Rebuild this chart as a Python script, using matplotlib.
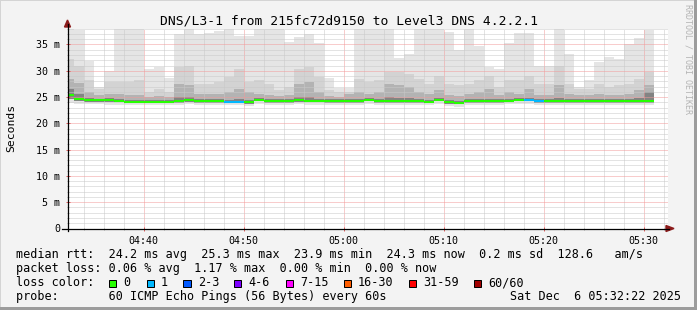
import numpy as np
import matplotlib
matplotlib.use("Agg")
import matplotlib.pyplot as plt
import matplotlib.dates as mdates
from matplotlib.ticker import MultipleLocator
from matplotlib.patches import Rectangle, Polygon
from matplotlib.lines import Line2D
from datetime import datetime, timedelta

# ---------------- data ----------------
title = "DNS/L3-1 from 215fc72d9150 to Level3 DNS 4.2.2.1"
first_bar = datetime(2025, 12, 6, 4, 32)
end_time = datetime(2025, 12, 6, 5, 32, 22)
n_bars = 59

rtt_max = [38.0, 37.8, 31.8, 27.0, 30.0, 38.0, 38.0, 38.0, 30.3, 30.8,
           28.7, 37.0, 38.0, 37.0, 37.2, 37.5, 38.0, 36.7, 36.7, 38.0,
           38.0, 38.0, 35.5, 36.5, 37.0, 35.2, 28.7, 26.8, 26.8, 38.0,
           38.0, 38.0, 38.0, 32.5, 33.1, 38.0, 38.0, 38.0, 37.3, 34.0,
           38.0, 34.8, 30.7, 30.4, 35.3, 37.2, 37.2, 31.0, 31.0, 38.0,
           33.1, 27.0, 28.3, 31.6, 32.7, 32.3, 35.0, 36.3, 37.7]
rtt_p90 = [32.3, 31.0, 28.2, 26.6, 27.8, 27.8, 27.8, 28.2, 25.9, 26.6,
           25.9, 30.7, 31.0, 27.5, 27.5, 27.8, 28.8, 30.4, 27.8, 28.2,
           27.5, 26.3, 26.9, 30.4, 30.7, 28.8, 26.3, 25.9, 26.0, 28.5,
           27.8, 28.2, 29.7, 29.7, 29.4, 28.5, 27.5, 29.1, 27.5, 27.2,
           27.5, 28.2, 29.1, 26.9, 28.2, 28.2, 29.1, 27.5, 27.5, 31.0,
           27.5, 26.6, 26.6, 27.5, 26.9, 27.2, 27.5, 28.5, 29.7]
rtt_p75 = [28.5, 27.6, 25.9, 25.3, 25.6, 25.6, 25.3, 25.3, 25.0, 25.2,
           25.0, 27.5, 27.2, 25.6, 25.6, 25.5, 25.9, 26.6, 25.9, 25.6,
           25.4, 25.2, 25.3, 27.5, 27.8, 25.9, 25.2, 25.0, 25.6, 25.9,
           25.6, 25.9, 27.5, 27.2, 26.9, 25.9, 25.5, 26.3, 25.4, 25.2,
           25.5, 25.9, 26.6, 25.4, 25.9, 25.6, 26.6, 25.4, 25.4, 27.2,
           25.5, 25.3, 25.3, 25.5, 25.3, 25.4, 25.6, 26.3, 27.2]
rtt_p60 = [26.6, 25.6, 24.8, 24.7, 24.8, 24.7, 24.5, 24.5, 24.5, 24.5,
           24.4, 25.0, 25.0, 24.6, 24.6, 24.6, 24.5, 24.6, 24.4, 24.9,
           24.6, 24.6, 24.6, 25.0, 25.0, 24.7, 24.6, 24.6, 24.7, 24.7,
           24.9, 24.6, 25.0, 24.9, 24.8, 24.6, 24.5, 24.9, 24.4, 24.3,
           24.6, 24.6, 24.7, 24.6, 24.7, 24.9, 24.9, 24.6, 24.6, 24.8,
           24.6, 24.6, 24.6, 24.6, 24.6, 24.6, 24.7, 24.8, 25.9]
rtt_median = [25.3, 24.6, 24.35, 24.35, 24.35, 24.3, 24.1, 24.1, 24.1, 24.1,
              24.0, 24.2, 24.4, 24.2, 24.2, 24.2, 24.1, 24.1, 24.0, 24.5,
              24.2, 24.2, 24.2, 24.4, 24.3, 24.3, 24.2, 24.2, 24.2, 24.2,
              24.5, 24.2, 24.2, 24.2, 24.2, 24.2, 24.1, 24.5, 24.0, 23.9,
              24.2, 24.2, 24.2, 24.2, 24.3, 24.5, 24.5, 24.2, 24.2, 24.2,
              24.2, 24.2, 24.2, 24.2, 24.2, 24.2, 24.2, 24.2, 24.2]
rtt_p10 = [24.6, 24.2, 24.1, 24.1, 24.1, 24.0, 23.8, 23.8, 23.8, 23.8,
           23.8, 23.9, 24.1, 23.9, 23.9, 23.9, 23.8, 23.8, 23.7, 24.2,
           23.9, 23.9, 23.9, 24.1, 24.0, 24.0, 23.9, 23.9, 23.9, 23.9,
           24.2, 23.9, 23.9, 23.9, 23.9, 23.9, 23.8, 24.2, 23.7, 23.6,
           23.9, 23.9, 23.9, 23.9, 24.0, 24.2, 24.2, 23.9, 23.9, 23.9,
           23.9, 23.9, 23.9, 23.9, 23.9, 23.9, 23.9, 23.9, 23.9]
rtt_min = [23.9, 23.6, 23.6, 23.6, 23.5, 23.5, 23.4, 23.4, 23.4, 23.4,
           23.4, 23.5, 23.6, 23.5, 23.5, 23.5, 23.4, 23.4, 23.3, 23.7,
           23.5, 23.5, 23.5, 23.6, 23.5, 23.5, 23.5, 23.5, 23.5, 23.5,
           23.7, 23.5, 23.5, 23.5, 23.5, 23.5, 23.4, 23.7, 23.3, 23.2,
           23.5, 23.5, 23.5, 23.5, 23.6, 23.7, 23.7, 23.5, 23.4, 23.5,
           23.5, 23.5, 23.5, 23.5, 23.5, 23.5, 23.5, 23.5, 23.5]
lost_pings = [0] * 16 + [1, 1] + [0] * 28 + [1, 1] + [0] * 11

y_ticks = [0, 5, 10, 15, 20, 25, 30, 35]
y_tick_labels = ["0", "5 m", "10 m", "15 m", "20 m", "25 m", "30 m", "35 m"]

loss_labels = ["0", "1", "2-3", "4-6", "7-15", "16-30", "31-59", "60/60"]
loss_upper = [0, 1, 3, 6, 15, 30, 59, 60]
loss_colors = ["#26ff00", "#00b8ff", "#0059ff", "#7e00ff", "#ff00ff",
               "#ff5e00", "#ff0000", "#a10000"]

row_median = "median rtt:  24.2 ms avg  25.3 ms max  23.9 ms min  24.3 ms now  0.2 ms sd  128.6   am/s"
row_loss = "packet loss: 0.06 % avg  1.17 % max  0.00 % min  0.00 % now"
row_color = "loss color:"
row_probe = "probe:       60 ICMP Echo Pings (56 Bytes) every 60s"
stamp = "Sat Dec  6 05:32:22 2025"
vendor = "RRDTOOL / TOBI OETIKER"

# ---------------- layout ----------------
W, H = 697, 310
MONO = "DejaVu Sans Mono"
plt.rcParams["font.family"] = [MONO, "DejaVu Sans"]

fig = plt.figure(figsize=(W / 100, H / 100), dpi=100, facecolor="#f3f3f3")


def fx(x):
    return x / W


def fy(y):
    return 1 - y / H


ax = fig.add_axes([fx(67.5), fy(228.5), 600 / W, 200 / H])
ax.set_facecolor("white")

starts = np.array([mdates.date2num(first_bar + timedelta(minutes=i)) for i in range(n_bars)])
width = 1 / 1440.0

rmax = np.array(rtt_max)
rmin = np.array(rtt_min)
p10 = np.array(rtt_p10)
bands = [
    (rmin, rmax, "#e5e5e5"),
    (p10, np.array(rtt_p90), "#d3d3d3"),
    (p10, np.array(rtt_p75), "#b3b3b3"),
    (p10, np.array(rtt_p60), "#838383"),
]
for lo, hi, col in bands:
    ax.bar(starts, hi - lo, bottom=lo, width=width, align="edge",
           color=col, linewidth=0, zorder=1)

idx = np.searchsorted(loss_upper, lost_pings)
med_colors = [loss_colors[i] for i in idx]
ax.hlines(rtt_median, starts, starts + width, colors=med_colors,
          linewidth=1.5, capstyle="butt", zorder=4)

ax.set_xlim(mdates.date2num(end_time - timedelta(minutes=60)), mdates.date2num(end_time))
ax.set_ylim(0, 38.04)

ax.xaxis.set_major_locator(mdates.MinuteLocator(byminute=range(0, 60, 10)))
ax.xaxis.set_minor_locator(mdates.MinuteLocator(byminute=range(0, 60, 2)))
ax.xaxis.set_major_formatter(mdates.DateFormatter("%H:%M"))
ax.set_yticks(y_ticks)
ax.set_yticklabels(y_tick_labels)
ax.yaxis.set_minor_locator(MultipleLocator(1))

ax.grid(which="minor", color="#c9c9c9", linewidth=0.72, linestyle=(0, (1, 1)), zorder=3)
ax.grid(which="major", color="#f29a9a", linewidth=0.72, linestyle=(0, (1, 1)), zorder=3)
ax.set_axisbelow(False)

ax.tick_params(axis="both", which="major", labelsize=7.2, colors="#e06060",
               labelcolor="black", length=2.5, width=0.72, direction="inout")
ax.tick_params(axis="both", which="minor", colors="#b0b0b0", length=2, width=0.72,
               direction="inout")
ax.tick_params(axis="x", which="major", pad=4)
ax.tick_params(axis="y", which="major", pad=4)
for s in ax.spines.values():
    s.set_visible(False)

# axes lines with arrows
fig.add_artist(Line2D([fx(62), fx(669)], [fy(228.5), fy(228.5)], color="black", lw=0.9))
fig.add_artist(Line2D([fx(67.5), fx(67.5)], [fy(231), fy(24)], color="black", lw=0.9))
fig.add_artist(Polygon([[fx(666), fy(225.5)], [fx(674), fy(228.5)], [fx(666), fy(231.5)]],
                       closed=True, color="#8b1a1a", transform=fig.transFigure))
fig.add_artist(Polygon([[fx(64.5), fy(27)], [fx(67.5), fy(20)], [fx(70.5), fy(27)]],
                       closed=True, color="#8b1a1a", transform=fig.transFigure))

# texts
fig.text(fx(348.5), fy(24), title, ha="center", va="baseline", fontsize=9.4, family=MONO)
fig.text(fx(11), fy(128), "Seconds", rotation=90, ha="center", va="center",
         fontsize=8.2, family=MONO)
fig.text(fx(688), fy(4), vendor, rotation=270, ha="center", va="top",
         fontsize=6, family=MONO, color="#b4b4b4")

fig.text(fx(16), fy(258), row_median, ha="left", va="baseline", fontsize=8.5, family=MONO)
fig.text(fx(16), fy(272), row_loss, ha="left", va="baseline", fontsize=8.5, family=MONO)
fig.text(fx(16), fy(286), row_color, ha="left", va="baseline", fontsize=8.5, family=MONO)
fig.text(fx(16), fy(300), row_probe, ha="left", va="baseline", fontsize=8.5, family=MONO)
fig.text(fx(681), fy(300), stamp, ha="right", va="baseline", fontsize=8.5, family=MONO)

box_x = [108, 146, 183, 233, 285, 343, 408, 473]
for bx, lab, col in zip(box_x, loss_labels, loss_colors):
    fig.add_artist(Rectangle((fx(bx + 0.5), fy(286.5)), 7 / W, 7 / H, transform=fig.transFigure,
                             facecolor=col, edgecolor="black", linewidth=0.72))
    fig.text(fx(bx + 15), fy(286), lab, ha="left", va="baseline", fontsize=8.5, family=MONO)

# frame
fig.add_artist(Rectangle((0, fy(1)), 1, 1 / H, transform=fig.transFigure,
                         facecolor="#d4d4d4", edgecolor="none"))
fig.add_artist(Rectangle((0, 0), 1 / W, 1, transform=fig.transFigure,
                         facecolor="#d4d4d4", edgecolor="none"))
fig.add_artist(Rectangle((0, 0), 1, 3 / H, transform=fig.transFigure,
                         facecolor="#9c9c9c", edgecolor="none"))
fig.add_artist(Rectangle((fx(694), 0), 3 / W, 1, transform=fig.transFigure,
                         facecolor="#9c9c9c", edgecolor="none"))

fig.savefig("out.png", dpi=100, facecolor=fig.get_facecolor())
